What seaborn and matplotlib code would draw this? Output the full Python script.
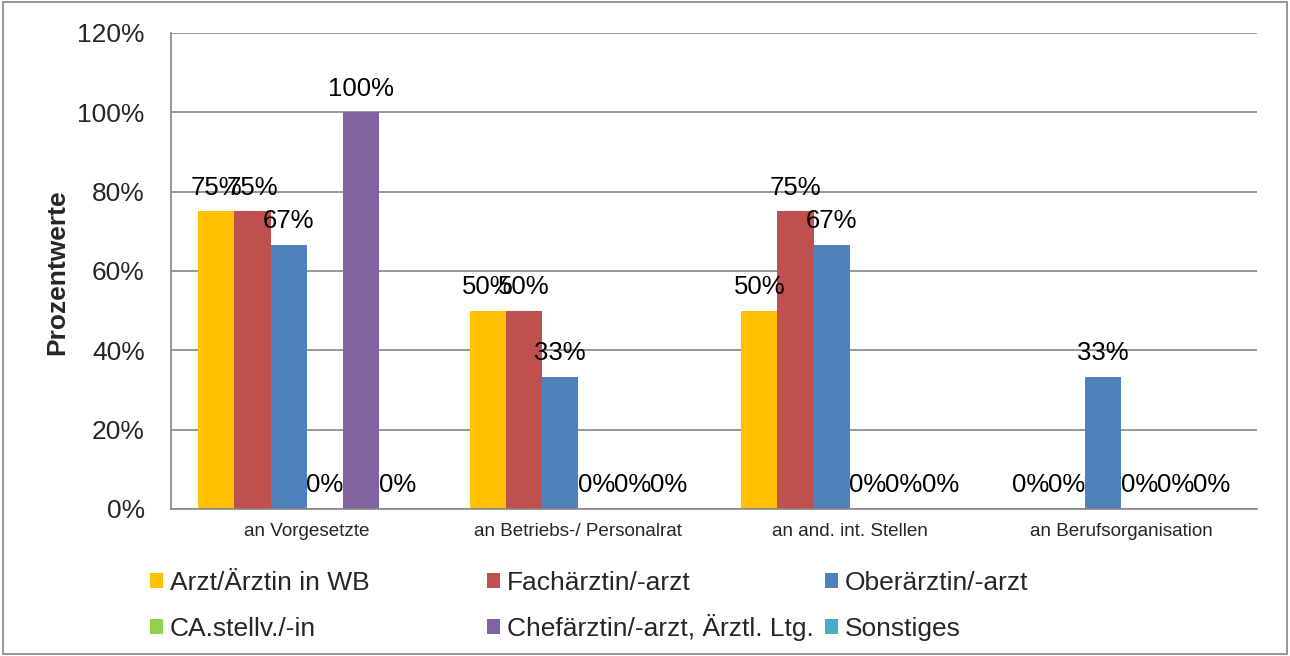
import pandas as pd
import matplotlib.pyplot as plt
import seaborn as sns
from matplotlib.patches import Rectangle

categories = ['an Vorgesetzte', 'an Betriebs-/ Personalrat', 'an and. int. Stellen', 'an Berufsorganisation']
series = ['Arzt/Ärztin in WB', 'Fachärztin/-arzt', 'Oberärztin/-arzt',
          'CA.stellv./-in', 'Chefärztin/-arzt, Ärztl. Ltg.', 'Sonstiges']
colors = ['#FFC000', '#C0504D', '#4F81BD', '#92D050', '#8064A2', '#4BACC6']

arzt_wb = [75, 50, 50, 0]
facharzt = [75, 50, 75, 0]
oberarzt = [66.67, 33.33, 66.67, 33.33]
ca_stellv = [0, 0, 0, 0]
chefarzt = [100, 0, 0, 0]
sonstiges = [0, 0, 0, 0]

values = [arzt_wb, facharzt, oberarzt, ca_stellv, chefarzt, sonstiges]

rows = []
for s, vals in zip(series, values):
    for c, v in zip(categories, vals):
        rows.append({'kategorie': c, 'gruppe': s, 'wert': v})
df = pd.DataFrame(rows)

sns.set_style('white')
plt.rcParams['font.family'] = ['Liberation Sans', 'DejaVu Sans']

fig = plt.figure(figsize=(12.9, 6.56), dpi=100)
ax = fig.add_axes([0.1326, 0.2241, 0.9744 - 0.1326, 0.9497 - 0.2241])

sns.barplot(data=df, x='kategorie', y='wert', hue='gruppe', order=categories,
            hue_order=series, palette=colors, ax=ax, width=0.8,
            linewidth=0, errorbar=None, saturation=1, legend=True)

# data labels above each bar (Excel style, overlaps included)
for cont in ax.containers:
    labels = [f'{bar.get_height():.0f}%' for bar in cont]
    ax.bar_label(cont, labels=labels, padding=8.5, fontsize=18.5, color='black')

ax.set_ylim(0, 120)
ax.set_yticks(range(0, 121, 20))
ax.set_yticklabels([f'{t}%' for t in range(0, 121, 20)], fontsize=19)
ax.set_xlim(-0.5, 3.5)
ax.set_xticks(range(4))
ax.set_xticklabels(categories, fontsize=13.6)
ax.tick_params(axis='x', length=0, pad=10)
ax.tick_params(axis='y', length=7, color='#868686', width=1.2, pad=12)
ax.set_xticks([-0.5, 0.5, 1.5, 2.5, 3.5], minor=True)
ax.tick_params(axis='x', which='minor', length=6, color='#868686', width=1.2)

ax.yaxis.grid(True, color='#868686', linewidth=1.2)
ax.set_axisbelow(True)
for side in ['top', 'right']:
    ax.spines[side].set_visible(False)
for side in ['left', 'bottom']:
    ax.spines[side].set_color('#868686')
    ax.spines[side].set_linewidth(1.2)

ax.set_xlabel('')
ax.set_ylabel('Prozentwerte', fontsize=19, fontweight='bold')
ax.yaxis.set_label_coords(69 / 1290, 1 - 272 / 656, transform=fig.transFigure)

# legend: 3 equal-width columns x 2 rows, one entry per legend so baselines line up
handles, labs = ax.get_legend_handles_labels()
ax.get_legend().remove()
col_x = [150 / 1290, 487 / 1290, 825 / 1290]
row_y = [1 - 595 / 656, 1 - 641 / 656]
for i, (h, lab) in enumerate(zip(handles, labs)):
    fig.legend([h], [lab], loc='lower left',
               bbox_to_anchor=(col_x[i % 3], row_y[i // 3]),
               frameon=False, fontsize=19, handlelength=0.5, handleheight=0.5,
               handletextpad=0.25, borderpad=0, borderaxespad=0)

fig.patches.append(Rectangle((0.002, 0.003), 0.996, 0.994, transform=fig.transFigure,
                             fill=False, edgecolor='#868686', linewidth=1.2))

fig.savefig('out.png', dpi=100)
